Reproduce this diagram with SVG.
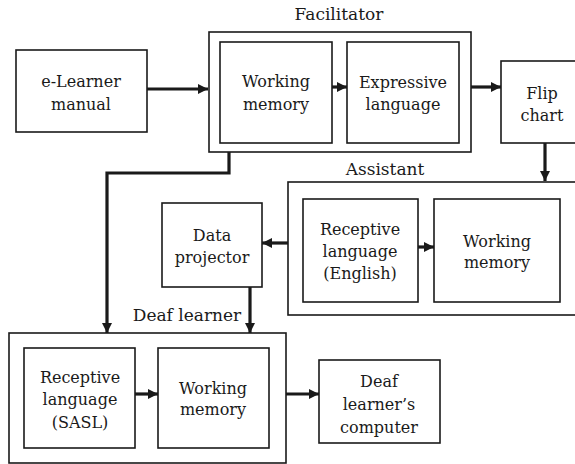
<svg xmlns="http://www.w3.org/2000/svg" width="575" height="464" viewBox="0 0 575 464">
<defs>
<style>
.box{fill:#fff;stroke:#1a1a1a;stroke-width:1.6}
.t{font-family:"DejaVu Serif","Liberation Serif",serif;font-size:16px;fill:#1a1a1a;text-anchor:middle}
.lbl{font-family:"DejaVu Serif","Liberation Serif",serif;font-size:17px;fill:#1a1a1a;text-anchor:middle}
.c{fill:none;stroke:#1a1a1a;stroke-width:3.2}
</style>
<marker id="ah" viewBox="0 0 10 10" refX="10" refY="5" markerWidth="3.2" markerHeight="3.2" orient="auto" markerUnits="strokeWidth">
<path d="M0,0L10,5L0,10z" fill="#1a1a1a"/>
</marker>
</defs>
<rect width="575" height="464" fill="#fff"/>
<g id="elearner">
<rect class="box" x="16" y="50" width="131" height="82"/>
<text class="t" x="81" y="87">e-Learner</text>
<text class="t" x="81" y="110">manual</text>
</g>
<g id="facilitator">
<rect class="box" x="209" y="32" width="262" height="120"/>
<text class="lbl" x="339" y="20">Facilitator</text>
</g>
<g id="fac-working">
<rect class="box" x="220" y="42" width="112" height="101"/>
<text class="t" x="276" y="87">Working</text>
<text class="t" x="276" y="110">memory</text>
</g>
<g id="fac-expressive">
<rect class="box" x="347" y="42" width="112" height="101"/>
<text class="t" x="403" y="88">Expressive</text>
<text class="t" x="403" y="110">language</text>
</g>
<g id="flipchart">
<rect class="box" x="501" y="61" width="80" height="82"/>
<text class="t" x="542" y="99">Flip</text>
<text class="t" x="542" y="121">chart</text>
</g>
<g id="assistant">
<rect class="box" x="288" y="182" width="295" height="133"/>
<text class="lbl" x="385" y="175">Assistant</text>
</g>
<g id="ass-receptive">
<rect class="box" x="303" y="199" width="115" height="103"/>
<text class="t" x="360" y="235">Receptive</text>
<text class="t" x="360" y="257">language</text>
<text class="t" x="360" y="279">(English)</text>
</g>
<g id="ass-working">
<rect class="box" x="434" y="199" width="126" height="103"/>
<text class="t" x="497" y="247">Working</text>
<text class="t" x="497" y="268">memory</text>
</g>
<g id="dataprojector">
<rect class="box" x="162" y="203" width="100" height="84"/>
<text class="t" x="212" y="241">Data</text>
<text class="t" x="212" y="263">projector</text>
</g>
<g id="deaflearner">
<rect class="box" x="9" y="333" width="277" height="130"/>
<text class="lbl" x="187" y="321">Deaf learner</text>
</g>
<g id="dl-receptive">
<rect class="box" x="24" y="348" width="111" height="100"/>
<text class="t" x="80" y="383">Receptive</text>
<text class="t" x="80" y="405">language</text>
<text class="t" x="80" y="428">(SASL)</text>
</g>
<g id="dl-working">
<rect class="box" x="158" y="348" width="111" height="100"/>
<text class="t" x="213" y="394">Working</text>
<text class="t" x="213" y="415">memory</text>
</g>
<g id="computer">
<rect class="box" x="319" y="360" width="121" height="83"/>
<text class="t" x="379" y="387">Deaf</text>
<text class="t" x="379" y="410">learner’s</text>
<text class="t" x="379" y="433">computer</text>
</g>
<g id="connectors">
<path class="c" d="M147,89H208" marker-end="url(#ah)"/>
<path class="c" d="M332,87H347" marker-end="url(#ah)"/>
<path class="c" d="M471,87H501" marker-end="url(#ah)"/>
<path class="c" d="M545,143V181" marker-end="url(#ah)"/>
<path class="c" d="M418,247H434" marker-end="url(#ah)"/>
<path class="c" d="M288,243H262" marker-end="url(#ah)"/>
<path class="c" d="M250,287V333" marker-end="url(#ah)"/>
<path class="c" d="M229,152V173H107V333" marker-end="url(#ah)"/>
<path class="c" d="M135,394H158" marker-end="url(#ah)"/>
<path class="c" d="M286,394H319" marker-end="url(#ah)"/>
</g>
</svg>
